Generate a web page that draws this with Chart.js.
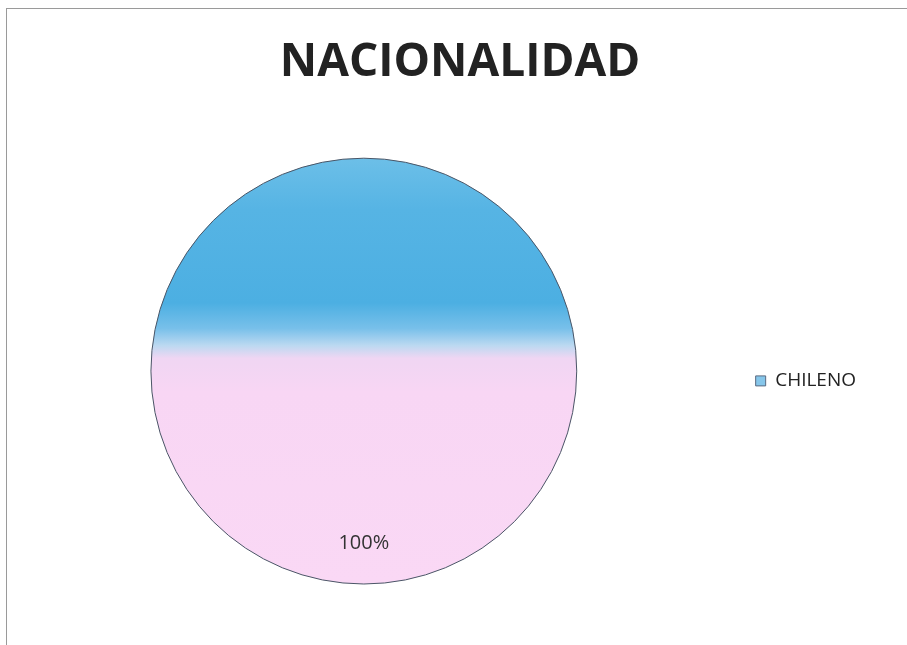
<!DOCTYPE html>
<html>
<head>
<meta charset="utf-8">
<script src="https://cdn.jsdelivr.net/npm/chart.js@4"></script>
<style>
    html, body { margin: 0; padding: 0; background: #fff; }
    #marco {
        position: absolute; left: 6px; top: 8px; right: 0; bottom: 0;
        border-top: 1px solid #9a9a9a; border-left: 1px solid #9a9a9a;
    }
    #caja { position: absolute; left: 0; top: 0; width: 907px; height: 645px; }
</style>
</head>
<body>
<div id="marco"></div>
<div id="caja"><canvas id="nacionalidadChart"></canvas></div>
<script>
// Datos del gráfico
const categorias = ['CHILENO'];
const valores = [100];
const titulo = 'NACIONALIDAD';

document.addEventListener('DOMContentLoaded', function () {
    const ctx = document.getElementById('nacionalidadChart').getContext('2d');

    // Relleno del escaneo: azul arriba, rosado abajo
    function rellenoPie(context) {
        const chart = context.chart;
        const area = chart.chartArea;
        if (!area) return '#55b3e4';
        const g = chart.ctx.createLinearGradient(0, area.top, 0, area.bottom);
        g.addColorStop(0, '#6cbfe8');
        g.addColorStop(0.12, '#56b4e4');
        g.addColorStop(0.34, '#4cafe2');
        g.addColorStop(0.40, '#78c0ea');
        g.addColorStop(0.44, '#bcd9f1');
        g.addColorStop(0.47, '#f0d6f3');
        g.addColorStop(0.55, '#f8d6f4');
        g.addColorStop(1, '#fad8f5');
        return g;
    }

    // Contorno y etiqueta de porcentaje
    const etiquetas = {
        id: 'etiquetas',
        afterDatasetsDraw(chart) {
            const c = chart.ctx;
            const meta = chart.getDatasetMeta(0);
            const total = valores.reduce((a, b) => a + b, 0);
            meta.data.forEach((arc, i) => {
                const p = arc.getProps(['x', 'y', 'startAngle', 'endAngle', 'outerRadius']);
                c.save();
                c.beginPath();
                c.arc(p.x, p.y, p.outerRadius, p.startAngle, p.endAngle);
                c.strokeStyle = '#4a5566';
                c.lineWidth = 1;
                c.stroke();
                const medio = (p.startAngle + p.endAngle) / 2;
                const r = p.outerRadius * 0.81;
                c.font = '20px "Open Sans"';
                c.fillStyle = '#333';
                c.textAlign = 'center';
                c.textBaseline = 'middle';
                c.fillText(Math.round(valores[i] / total * 100) + '%', p.x + Math.cos(medio) * r, p.y + Math.sin(medio) * r);
                c.restore();
            });
        }
    };

    new Chart(ctx, {
        type: 'pie',
        data: {
            labels: categorias,
            datasets: [{
                data: valores,
                backgroundColor: rellenoPie,
                borderWidth: 0
            }]
        },
        options: {
            responsive: true,
            maintainAspectRatio: false,
            animation: false,
            layout: { padding: { left: 54, right: 41, top: 0, bottom: 61 } },
            plugins: {
                title: {
                    display: true,
                    text: titulo,
                    color: '#222',
                    font: { family: 'Open Sans', size: 46, weight: 'bold' },
                    padding: { top: 35, bottom: 68 }
                },
                legend: {
                    position: 'right',
                    title: {
                        display: true,
                        text: '',
                        font: { size: 19 },
                        padding: { top: 155, bottom: 0 }
                    },
                    labels: {
                        boxWidth: 10,
                        boxHeight: 10,
                        padding: 82,
                        color: '#222',
                        font: { family: 'Open Sans', size: 19 },
                        generateLabels: function () {
                            return categorias.map((t, i) => ({
                                text: t,
                                fillStyle: '#86c6ea',
                                strokeStyle: '#5a6a80',
                                fontColor: '#222',
                                lineWidth: 1,
                                index: i
                            }));
                        }
                    }
                },
                tooltip: { enabled: false }
            }
        },
        plugins: [etiquetas]
    });
});
</script>
</body>
</html>
